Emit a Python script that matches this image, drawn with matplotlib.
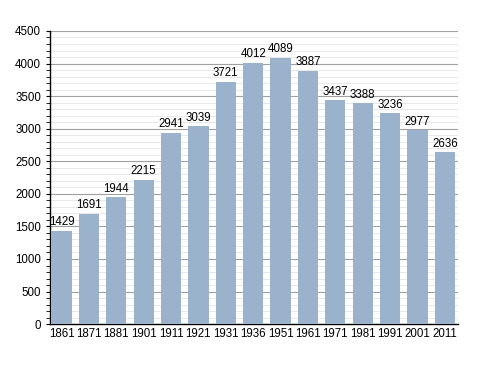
import matplotlib.pyplot as plt
from matplotlib.ticker import MultipleLocator

years = ['1861', '1871', '1881', '1901', '1911', '1921', '1931', '1936',
         '1951', '1961', '1971', '1981', '1991', '2001', '2011']
population = [1429, 1691, 1944, 2215, 2941, 3039, 3721, 4012,
              4089, 3887, 3437, 3388, 3236, 2977, 2636]

plt.rcParams['font.family'] = ['Liberation Sans', 'DejaVu Sans']

fig = plt.figure(figsize=(4.88, 3.73), dpi=100)
ax = fig.add_axes([0.1025, 0.131, 0.836, 0.786])

x = range(len(years))
bars = ax.bar(x, population, width=0.74, color='#9bb2cc', zorder=3)
for xi, v in zip(x, population):
    ax.text(xi, v + 40, str(v), ha='center', va='bottom', fontsize=8.3, zorder=4)

ax.set_xlim(-0.42, len(years) - 0.52)
ax.set_ylim(0, 4500)
ax.set_xticks(list(x))
ax.set_xticklabels(years, fontsize=8.3)
ax.yaxis.set_major_locator(MultipleLocator(500))
ax.yaxis.set_minor_locator(MultipleLocator(100))
ax.tick_params(axis='y', labelsize=8.3, length=3, width=0.8)
ax.tick_params(axis='y', which='minor', length=3, width=0.6)
ax.tick_params(axis='x', length=0, pad=3)

ax.grid(axis='y', which='major', color='#a0a0a0', linewidth=0.8, zorder=0)
ax.grid(axis='y', which='minor', color='#e4e4e4', linewidth=0.6, zorder=0)

for s in ['top', 'right']:
    ax.spines[s].set_visible(False)
ax.spines['left'].set_linewidth(1.0)
ax.spines['bottom'].set_linewidth(1.0)

fig.savefig('out.png', dpi=100)
